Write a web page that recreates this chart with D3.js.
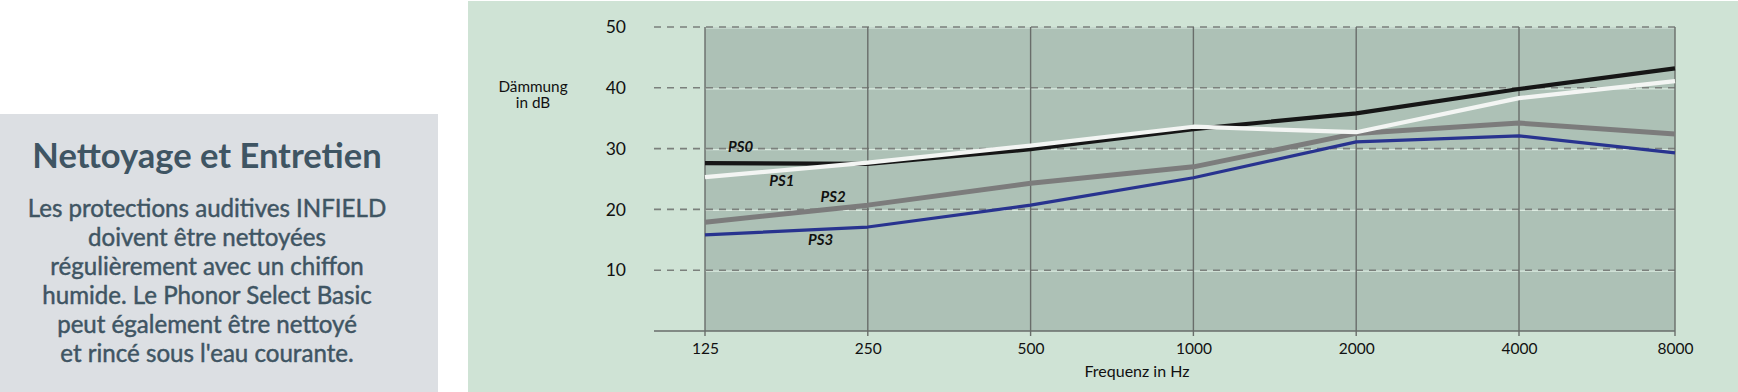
<!DOCTYPE html>
<html>
<head>
<meta charset="utf-8">
<script src="https://cdn.jsdelivr.net/npm/d3@7"></script>
<style>
  html, body { margin: 0; padding: 0; background: #ffffff; }
  svg { display: block; }
</style>
</head>
<body>
<svg id="chart" width="1738" height="392"></svg>
<script>
// ---- data ----
const frequencies = [125, 250, 500, 1000, 2000, 4000, 8000];
const xTickLabels = ["125", "250", "500", "1000", "2000", "4000", "8000"];
const yTicks = [10, 20, 30, 40, 50];
const seriesNames = ["PS0", "PS1", "PS2", "PS3"];
const ps0 = [27.6, 27.5, 29.9, 33.2, 35.8, 39.8, 43.2];
const ps1 = [25.3, 27.7, 30.5, 33.6, 32.7, 38.3, 41.1];
const ps2 = [17.9, 20.7, 24.3, 27.0, 32.5, 34.2, 32.4];
const ps3 = [15.8, 17.1, 20.7, 25.2, 31.1, 32.1, 29.3];
// label anchors in data coordinates (frequency, dB)
const labelFreq = [145.5, 173.4, 215.7, 204.5];
const labelDb = [29.45, 23.85, 21.2, 14.1];

const titleText = "Nettoyage et Entretien";
const bodyLines = [
  "Les protections auditives INFIELD",
  "doivent être nettoyées",
  "régulièrement avec un chiffon",
  "humide. Le Phonor Select Basic",
  "peut également être nettoyé",
  "et rincé sous l'eau courante."
];

// ---- layout ----
const svg = d3.select("#chart");

// left info box
svg.append("rect").attr("x", 0).attr("y", 114).attr("width", 438).attr("height", 278)
  .attr("fill", "#dcdfe3");
svg.append("text").attr("x", 207).attr("y", 168)
  .attr("text-anchor", "middle")
  .attr("font-family", "Lato").attr("font-weight", "bold").attr("font-size", 34.5)
  .attr("fill", "#3f5563").text(titleText);
svg.append("g").selectAll("text").data(bodyLines).join("text")
  .attr("x", 207).attr("y", (d, i) => 217 + i * 29)
  .attr("text-anchor", "middle")
  .attr("font-family", "Lato").attr("font-weight", "normal").attr("font-size", 24.1)
  .attr("fill", "#3f5563").attr("stroke", "#3f5563").attr("stroke-width", 0.45)
  .text(d => d);

// chart panel
svg.append("rect").attr("x", 468).attr("y", 1).attr("width", 1270).attr("height", 391)
  .attr("fill", "#cfe3d5");

const x = d3.scaleLog().domain([125, 4000, 8000]).range([705, 1519, 1675]);
const y = d3.scaleLinear().domain([0, 50]).range([331, 27]);
const gridLeft = 654;

// plot background
svg.append("rect")
  .attr("x", x(125)).attr("y", y(50))
  .attr("width", x(8000) - x(125)).attr("height", y(0) - y(50))
  .attr("fill", "#adc1b6");

// horizontal grid: light line + dashed gray
const hg = svg.append("g");
hg.selectAll("line.light").data(yTicks).join("line").attr("class", "light")
  .attr("x1", x(125)).attr("x2", x(8000))
  .attr("y1", d => y(d) + 1).attr("y2", d => y(d) + 1)
  .attr("stroke", "#dcebe1").attr("stroke-width", 1.2);
hg.selectAll("line.dash").data(yTicks).join("line").attr("class", "dash")
  .attr("x1", gridLeft).attr("x2", x(8000))
  .attr("y1", d => y(d)).attr("y2", d => y(d))
  .attr("stroke", "#7b807c").attr("stroke-width", 1.6)
  .attr("stroke-dasharray", "7,6");

// vertical grid
svg.append("g").selectAll("line").data(frequencies).join("line")
  .attr("x1", d => x(d)).attr("x2", d => x(d))
  .attr("y1", y(50)).attr("y2", y(0) + 5)
  .attr("stroke", "#696d6a").attr("stroke-width", 1.4);

// bottom axis line
svg.append("line").attr("x1", gridLeft).attr("x2", x(8000))
  .attr("y1", y(0)).attr("y2", y(0))
  .attr("stroke", "#696d6a").attr("stroke-width", 1.4);

// x axis labels via d3 axis
const xAxis = d3.axisBottom(x).tickValues(frequencies)
  .tickFormat((d, i) => xTickLabels[i]).tickSize(0).tickPadding(0);
const gx = svg.append("g").attr("transform", `translate(0,${y(0) + 12})`).call(xAxis);
gx.select(".domain").remove();
gx.selectAll("text").attr("font-family", "Lato").attr("font-size", 15.5)
  .attr("fill", "#111").attr("dy", "0.71em");

// y axis labels via d3 axis
const yAxis = d3.axisLeft(y).tickValues(yTicks).tickSize(0).tickPadding(0);
const gy = svg.append("g").attr("transform", `translate(626,0)`).call(yAxis);
gy.select(".domain").remove();
gy.selectAll("text").attr("font-family", "Lato").attr("font-size", 17.5)
  .attr("fill", "#111");

// axis titles
svg.append("text").attr("x", 533).attr("y", 92).attr("text-anchor", "middle")
  .attr("font-family", "Lato").attr("font-size", 15.3).attr("fill", "#111").text("Dämmung");
svg.append("text").attr("x", 533).attr("y", 108).attr("text-anchor", "middle")
  .attr("font-family", "Lato").attr("font-size", 15.3).attr("fill", "#111").text("in dB");
svg.append("text").attr("x", 1137).attr("y", 377).attr("text-anchor", "middle")
  .attr("font-family", "Lato").attr("font-size", 16).attr("fill", "#111").text("Frequenz in Hz");

// series lines
const line = d3.line().x((d, i) => x(frequencies[i])).y(d => y(d));
const series = [
  { vals: ps0, color: "#161616", width: 4.2 },
  { vals: ps2, color: "#7c7c7c", width: 5 },
  { vals: ps3, color: "#28338f", width: 3.2 },
  { vals: ps1, color: "#f3f5f3", width: 4.2 }
];
svg.append("g").selectAll("path").data(series).join("path")
  .attr("d", d => line(d.vals))
  .attr("fill", "none").attr("stroke", d => d.color).attr("stroke-width", d => d.width)
  .attr("stroke-linejoin", "round");

// series labels
svg.append("g").selectAll("text").data(seriesNames).join("text")
  .attr("x", (d, i) => x(labelFreq[i])).attr("y", (d, i) => y(labelDb[i]))
  .attr("text-anchor", "middle")
  .attr("font-family", "Lato").attr("font-weight", "bold").attr("font-style", "italic")
  .attr("font-size", 15).attr("fill", "#111").text(d => d);
</script>
</body>
</html>
